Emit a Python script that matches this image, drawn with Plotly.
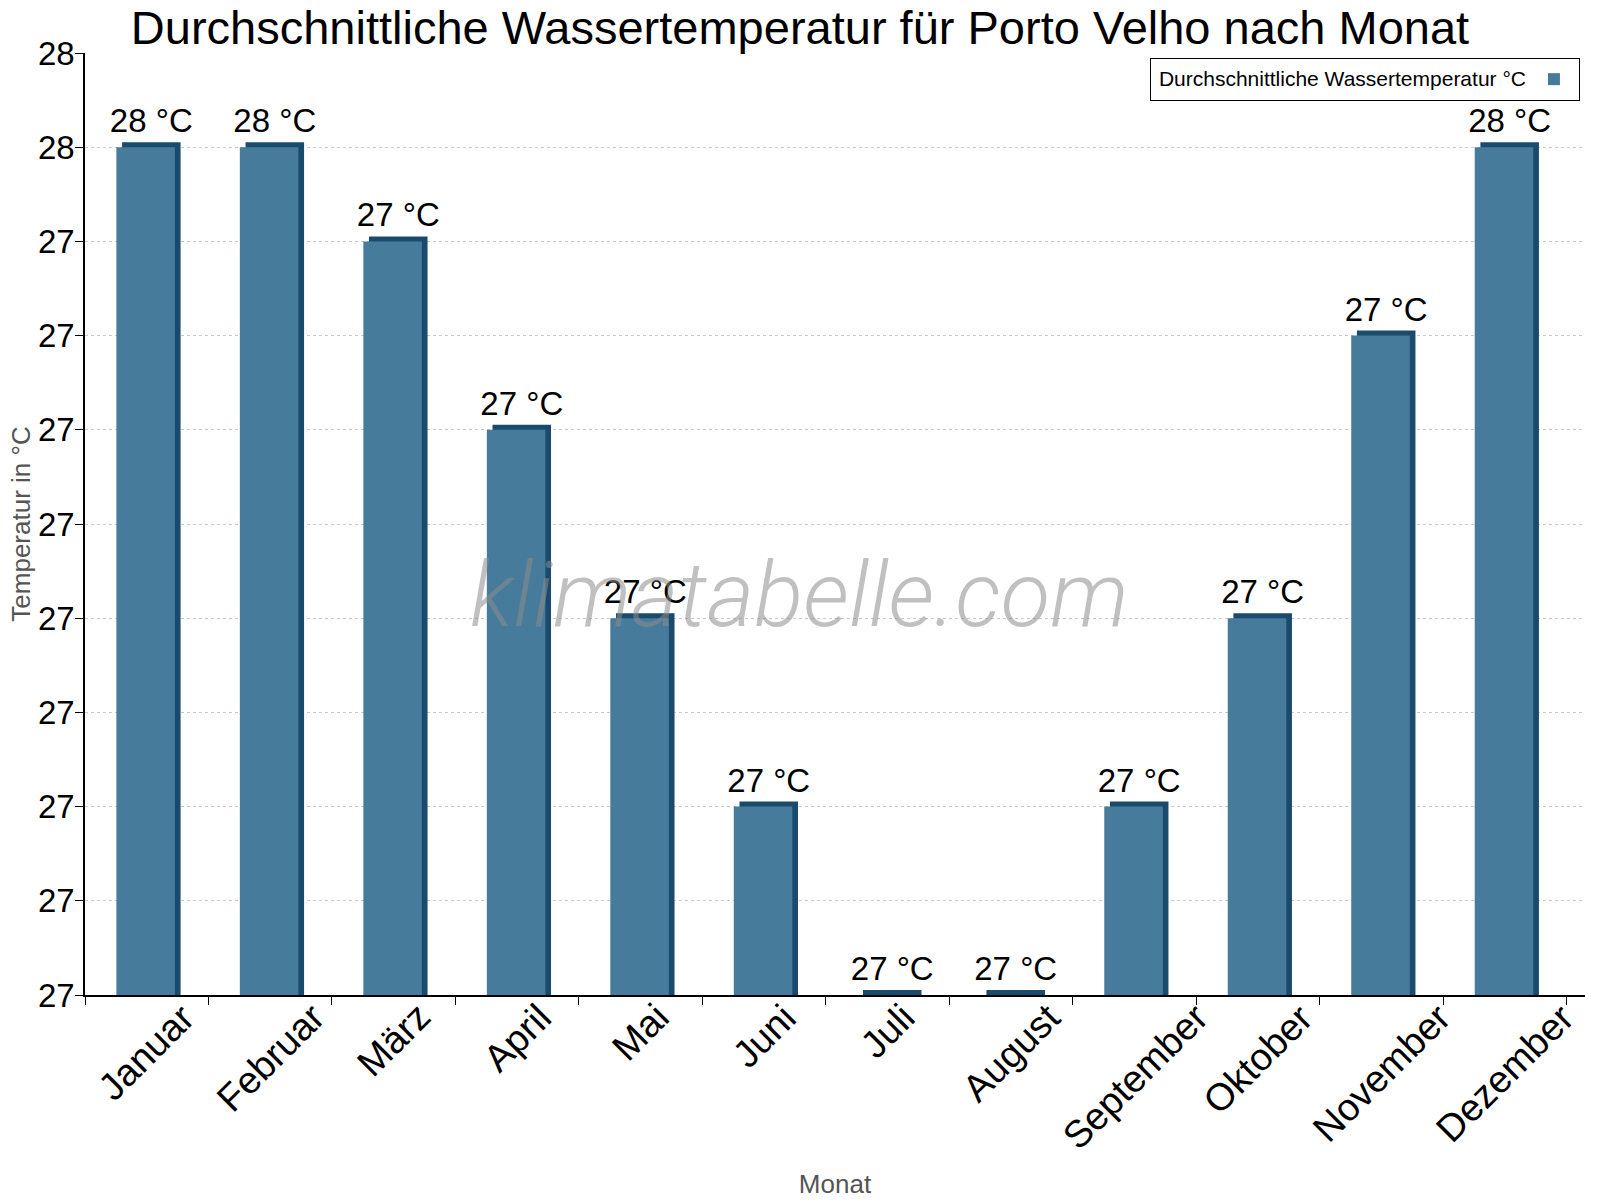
import plotly.graph_objects as go

# data
months = ["Januar", "Februar", "März", "April", "Mai", "Juni", "Juli",
          "August", "September", "Oktober", "November", "Dezember"]
water_temp = [27.5, 27.5, 27.4, 27.2, 27.0, 26.8, 26.6, 26.6, 26.8, 27.0, 27.3, 27.5]
tick_vals = [26.6, 26.7, 26.8, 26.9, 27.0, 27.1, 27.2, 27.3, 27.4, 27.5, 27.6]
tick_labels = ["27", "27", "27", "27", "27", "27", "27", "27", "27", "28", "28"]

y_min, y_max = 26.6, 27.6
depth = 0.0053  # ~5px fake 3d depth

front_col = "#477b9c"
side_col = "#1a4b6d"
font_fam = "Liberation Sans, Arial, sans-serif"

labels = ["{:.0f} °C".format(v) for v in water_temp]

fig = go.Figure()

# dark "depth" bar, a bit right and up (main y axis, shifted range)
fig.add_trace(go.Bar(
    x=months, y=water_temp,
    yaxis="y",
    width=0.474, offset=-0.2,
    marker=dict(color=side_col, line=dict(width=0)),
    text=labels, textposition="outside", constraintext="none",
    textfont=dict(family=font_fam, size=33, color="black"),
    cliponaxis=False,
    showlegend=False, hoverinfo="skip",
))

# front face of the bars (overlay axis -> drawn on top)
fig.add_trace(go.Bar(
    x=months, y=water_temp,
    yaxis="y2",
    name="",
    width=0.474, offset=-0.246,
    marker=dict(color=front_col, line=dict(width=0)),
))

# month labels, rotated around their centre like in the original
for m in months:
    fig.add_annotation(
        text=m, xref="x", yref="paper", x=m, y=0.002,
        xanchor="center", yanchor="top", textangle=-45, showarrow=False,
        font=dict(family=font_fam, size=38, color="black"),
    )

fig.add_annotation(
    text="klimatabelle.com", xref="paper", yref="paper",
    x=0.476, y=0.425, showarrow=False,
    font=dict(family="Roboto", size=91, color="rgba(140,140,140,0.55)",
              style="italic", weight=300),
)

fig.update_layout(
    width=1600, height=1200,
    barmode="overlay",
    plot_bgcolor="white", paper_bgcolor="white",
    margin=dict(l=85, r=15, t=53, b=205),
    font=dict(family=font_fam, color="black"),
    title=dict(text="Durchschnittliche Wassertemperatur für Porto Velho nach Monat",
               x=0.5, xanchor="center", yref="container", y=0.977, yanchor="middle",
               font=dict(size=47, color="black")),
    xaxis=dict(
        title=dict(text="Monat", font=dict(size=26, color="#555555"), standoff=179),
        showticklabels=False,
        showline=True, linecolor="black", linewidth=1.5,
        ticks="outside", tickson="boundaries", ticklen=8, tickcolor="black",
        showgrid=False, automargin=False,
    ),
    yaxis=dict(
        range=[y_min - depth, y_max - depth],
        visible=False, showgrid=False, zeroline=False, automargin=False,
    ),
    yaxis2=dict(
        overlaying="y", side="left",
        title=dict(text="Temperatur in °C", font=dict(size=26, color="#555555"), standoff=0),
        range=[y_min, y_max],
        tickvals=tick_vals, ticktext=tick_labels,
        tickfont=dict(size=33), ticklabelstandoff=-6,
        showline=True, linecolor="black", linewidth=1.5,
        ticks="outside", ticklen=8, tickcolor="black",
        showgrid=True, gridcolor="#c8c8c8", griddash="dot", gridwidth=1,
        zeroline=False, automargin=False,
    ),
    legend=dict(
        x=0.9967, y=0.9947, xanchor="right", yanchor="top",
        bordercolor="black", borderwidth=1, bgcolor="white",
        font=dict(size=21),
        title=dict(text="\u00a0Durchschnittliche Wassertemperatur °C", side="left",
                   font=dict(size=21)),
        itemwidth=30,
    ),
)

fig.write_html("out.html", config={"displayModeBar": False},
               post_script="document.body.style.margin='0';")
